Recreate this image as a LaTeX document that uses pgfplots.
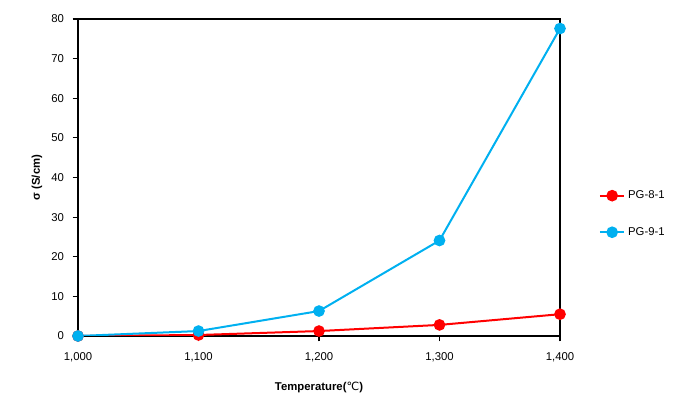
\documentclass[border=0pt]{standalone}
\usepackage{pgfplots}
\pgfplotsset{compat=1.18}
\usepackage{fontspec}
\setmainfont{Liberation Sans}
\newfontfamily\dv{DejaVu Sans}
\definecolor{pgred}{HTML}{FF0000}
\definecolor{pgblue}{HTML}{00B0F0}
\begin{document}
\begin{tikzpicture}[x=0.75pt,y=0.75pt]
\useasboundingbox (0,0) rectangle (685,414);
\begin{axis}[
  at={(78*0.75pt,78*0.75pt)}, anchor=south west,
  scale only axis, width=482*0.75pt, height=317*0.75pt,
  xmin=1000, xmax=1400, ymin=0, ymax=80,
  xtick={1000,1100,1200,1300,1400},
  ytick={0,10,...,80},
  tick align=outside, tick pos=left,
  major tick length=4pt,
  axis line style={black, line width=0.8pt},
  tick style={black, line width=0.8pt},
  font=\fontsize{8.5}{10}\selectfont,
  /pgf/number format/assume math mode=true,
  /pgf/number format/1000 sep={,},
  xticklabel style={yshift=-5pt},
  yticklabel style={xshift=-3pt},
  xlabel={\bfseries Temperature({\dv\mdseries ℃})},
  ylabel={\bfseries σ (S/cm)},
  xlabel style={yshift=-8pt},
  ylabel style={yshift=0pt},
  legend style={draw=none, fill=none, at={(1.08,0.385)}, anchor=west,
    font=\fontsize{8.5}{10}\selectfont, row sep=16pt, inner sep=0pt},
  legend cell align=left,
  legend image code/.code={
    \draw[#1, mark=none] (0cm,0cm) -- (0.65cm,0cm);
    \draw[#1, only marks] plot coordinates {(0.325cm,0cm)};
  },
]
\addplot[color=pgred, line width=1.5pt, mark=*, mark size=3.6pt, mark options={fill=pgred, draw=pgred}]
  coordinates {(1000,0) (1100,0.25) (1200,1.25) (1300,2.8) (1400,5.5)};
\addlegendentry{PG-8-1}
\addplot[color=pgblue, line width=1.5pt, mark=*, mark size=3.6pt, mark options={fill=pgblue, draw=pgblue}]
  coordinates {(1000,0) (1100,1.25) (1200,6.3) (1300,24.1) (1400,77.6)};
\addlegendentry{PG-9-1}
\end{axis}
\end{tikzpicture}
\end{document}
